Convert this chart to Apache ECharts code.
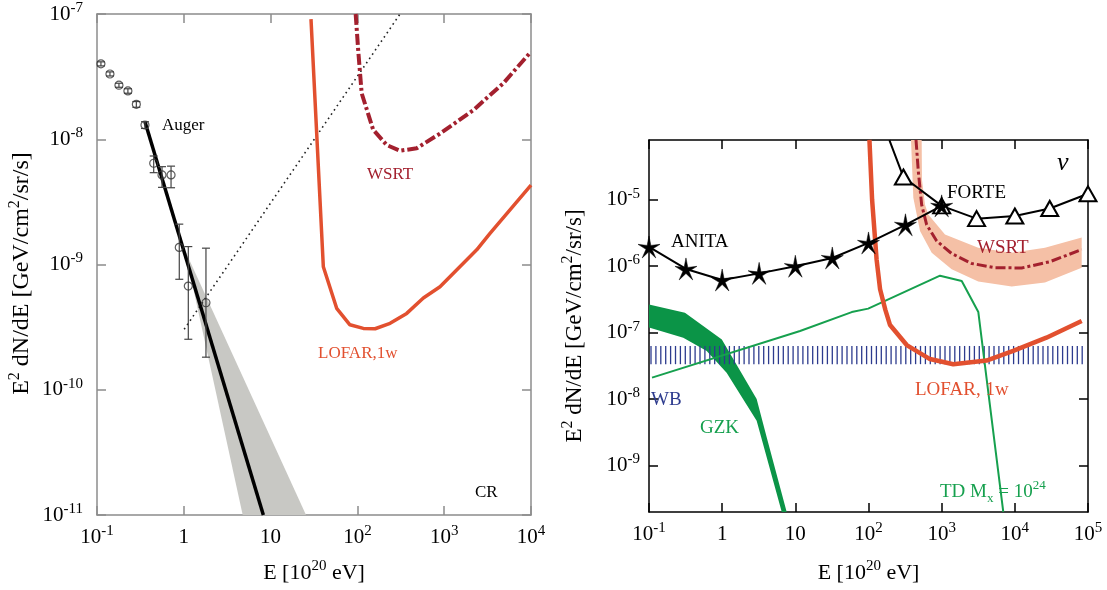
<!DOCTYPE html>
<html>
<head>
<meta charset="utf-8">
<script src="https://cdn.jsdelivr.net/npm/echarts@6/dist/echarts.min.js"></script>
<style>
html, body { margin: 0; padding: 0; background: #fff; }
#chart { width: 1107px; height: 590px; }
</style>
</head>
<body>
<div id="chart"></div>
<script>
var SERIF = '"Liberation Serif", "DejaVu Serif", serif';

// ---------- left panel: cosmic rays (CR) ----------
var crTicksX = [0.1, 1, 10, 100, 1000, 10000];
var crTicksY = [1e-11, 1e-10, 1e-9, 1e-8, 1e-7];

// Auger points, E [1e20 eV], flux and error bar ends
var augerE    = [0.111, 0.141, 0.179, 0.227, 0.284, 0.357, 0.45, 0.561, 0.713, 0.887, 1.127, 1.80];
var augerFlux = [4.0e-8, 3.32e-8, 2.70e-8, 2.43e-8, 1.90e-8, 1.30e-8, 6.43e-9, 5.19e-9, 5.19e-9, 1.37e-9, 6.73e-10, 4.95e-10];
var augerLo   = [3.85e-8, 3.2e-8, 2.6e-8, 2.33e-8, 1.80e-8, 1.22e-8, 5.41e-9, 4.13e-9, 4.1e-9, 7.62e-10, 2.53e-10, 1.82e-10];
var augerHi   = [4.15e-8, 3.45e-8, 2.8e-8, 2.53e-8, 2.0e-8, 1.38e-8, 7.35e-9, 6.04e-9, 6.1e-9, 2.10e-9, 1.39e-9, 1.35e-9];

var augerFit  = [[0.357, 1.38e-8], [8.25, 1e-11]];
var crBand    = [[1.03, 1.3e-9], [4.77, 1e-11], [25.6, 1e-11]];
var crDotted  = [[1.01, 3.04e-10], [310, 1e-7]];

var lofarCR = [[29.2, 9.1e-8], [40.5, 9.6e-10], [57.7, 4.47e-10], [82, 3.3e-10], [117, 3.09e-10],
               [160, 3.07e-10], [238, 3.39e-10], [370, 4.07e-10], [575, 5.4e-10], [895, 6.65e-10],
               [2370, 1.31e-9], [3370, 1.77e-9], [10000, 4.3e-9]];
var wsrtCR  = [[95.5, 1e-7], [102, 5.2e-8], [112, 2.33e-8], [152, 1.19e-8], [217, 9.0e-9],
               [310, 8.1e-9], [482, 8.47e-9], [895, 1.11e-8], [2170, 1.71e-8], [4800, 2.8e-8], [10000, 5.0e-8]];

// ---------- right panel: neutrinos ----------
var nuTicksX = [0.1, 1, 10, 100, 1000, 10000, 100000];
var nuTicksY = [1e-9, 1e-8, 1e-7, 1e-6, 1e-5];

var anitaE    = [0.1, 0.32, 1, 3.2, 10, 32, 100, 320, 1000];
var anitaFlux = [1.95e-6, 9.1e-7, 6.2e-7, 7.8e-7, 1.0e-6, 1.33e-6, 2.24e-6, 4.2e-6, 8.1e-6];

var forteE    = [193, 300, 1000, 3000, 10000, 30000, 100000];
var forteFlux = [7.9e-5, 2.2e-5, 8.1e-6, 5.2e-6, 5.7e-6, 7.4e-6, 1.23e-5];

var lofarNu = [[103, 8e-5], [112, 1e-5], [129, 1.26e-6], [144, 4.5e-7], [170, 2.2e-7], [197, 1.3e-7],
               [333, 6.5e-8], [692, 4.0e-8], [1440, 3.35e-8], [4100, 3.8e-8], [9500, 5.3e-8],
               [27000, 8.4e-8], [82000, 1.5e-7]];

var wsrtNu = [[446, 8e-5], [479, 2.7e-5], [533, 8.4e-6], [624, 4.2e-6], [855, 2.4e-6], [1370, 1.55e-6],
              [2570, 1.1e-6], [5350, 9.5e-7], [12400, 9.4e-7], [30200, 1.17e-6], [82000, 1.78e-6]];
var wsrtBandInner = [[533, 8e-5], [538, 2.0e-5], [592, 8.4e-6], [656, 6.0e-6], [1110, 3.0e-6],
                     [3160, 1.9e-6], [9060, 1.6e-6], [25800, 1.9e-6], [82000, 2.7e-6]];
var wsrtBandOuter = [[381, 8e-5], [410, 1.07e-5], [506, 3.4e-6], [731, 1.6e-6], [1370, 9.0e-7],
                     [3160, 5.9e-7], [9060, 4.96e-7], [25800, 5.7e-7], [82000, 9.5e-7]];

var tdLine = [[0.11, 2.1e-8], [11.6, 1.06e-7], [59, 2.04e-7], [99, 2.3e-7], [950, 7.2e-7],
              [1880, 6.0e-7], [3170, 2.04e-7], [4120, 2.0e-8], [6950, 2e-10]];

var gzkUpper = [[0.1, 2.66e-7], [0.31, 2.0e-7], [0.99, 7.9e-8], [2.96, 1.0e-8], [4.06, 2.66e-9], [7.62, 2e-10]];
var gzkLower = [[0.1, 1.19e-7], [0.294, 8.4e-8], [0.615, 5.3e-8], [1.15, 2.5e-8], [2.96, 4.7e-9], [6.52, 2e-10]];

var wbX = [0.1, 90000];
var wbY = [6.3e-8, 3.35e-8];

// ---------- helpers ----------
var COL_LOFAR = '#e2502f';
var COL_WSRT = '#a3202e';
var COL_GREEN = '#16a04e';
var COL_NAVY = '#2d3b8e';
var GREY = '#8c8c8c';

var rich = {
    b: { fontFamily: SERIF, fontSize: 21, lineHeight: 27, color: '#000' },
    s: { fontFamily: SERIF, fontSize: 15, lineHeight: 15, verticalAlign: 'top', color: '#000' }
};
function nameRich(size) {
    return {
        b: { fontFamily: SERIF, fontSize: size, lineHeight: size + 6, color: '#000' },
        s: { fontFamily: SERIF, fontSize: Math.round(size * 0.68), lineHeight: Math.round(size * 0.68), verticalAlign: 'top', color: '#000' }
    };
}

function powLabel(v) {
    var e = Math.round(Math.log10(v));
    if (e === 0) return '{b|1}';
    if (e === 1) return '{b|10}';
    return '{b|10}{s|' + e + '}';
}

function makeAxis(gridIndex, pos, min, max, ticks, color, labelMargin, name, nameSize, nameGap, namePad) {
    var ax = {
        type: 'log', gridIndex: gridIndex, position: pos, min: min, max: max,
        axisLine: { show: true, lineStyle: { color: color, width: 1.5 } },
        axisTick: { show: true, inside: true, length: 9, customValues: ticks, lineStyle: { color: color, width: 1.5 } },
        minorTick: { show: false },
        splitLine: { show: false },
        axisLabel: {
            show: labelMargin != null, customValues: ticks, formatter: powLabel, rich: rich,
            margin: labelMargin || 8
        }
    };
    if (name) {
        ax.name = name;
        ax.nameLocation = 'middle';
        ax.nameTextStyle = { rich: nameRich(nameSize), padding: namePad || 0 };
        ax.nameGap = nameGap;
    }
    return ax;
}

function polygonSeries(pts, color, xi, yi, z) {
    return {
        type: 'custom', xAxisIndex: xi, yAxisIndex: yi, clip: true, z: z, silent: true,
        data: pts,
        renderItem: function (params, api) {
            if (params.dataIndex !== 0) return;
            return {
                type: 'polygon',
                shape: { points: pts.map(function (p) { return api.coord(p); }) },
                style: { fill: color }
            };
        }
    };
}

var starPath = 'path://M10 0L11.6 7.8L19.51 6.91L12.6 11L15.88 18.09L10 12.8L4.12 18.09L7.4 11L0.49 6.91L8.4 7.8Z';

var xName = '{b|E [10}{s|20}{b| eV]}';
var yName = '{b|E}{s|2}{b| dN/dE [GeV/cm}{s|2}{b|/sr/s]}';

function txt(x, y, text, color, size, extra) {
    var st = { text: text, fill: color, font: (extra || '') + size + 'px ' + SERIF, verticalAlign: 'middle' };
    return { type: 'text', x: x, y: y, z: 100, style: st };
}

var chart = echarts.init(document.getElementById('chart'));
var option = {
    animation: false,
    backgroundColor: '#fff',
    grid: [
        { left: 97, top: 14, width: 434, height: 501, outerBoundsMode: 'none' },
        { left: 649, top: 140, width: 439, height: 372, outerBoundsMode: 'none' }
    ],
    xAxis: [
        makeAxis(0, 'bottom', 0.1, 1e4, crTicksX, GREY, 9, xName, 22, 44),
        makeAxis(0, 'top', 0.1, 1e4, crTicksX, GREY, null),
        makeAxis(1, 'bottom', 0.1, 1e5, nuTicksX, '#000', 9, xName, 22, 47),
        makeAxis(1, 'top', 0.1, 1e5, nuTicksX, '#000', null)
    ],
    yAxis: [
        makeAxis(0, 'left', 1e-11, 1e-7, crTicksY, GREY, 14, yName, 24, 60, [0, 18, 0, 0]),
        makeAxis(0, 'right', 1e-11, 1e-7, crTicksY, GREY, null),
        makeAxis(1, 'left', 1.995e-10, 7.94e-5, nuTicksY, '#000', 9, yName, 23, 60),
        makeAxis(1, 'right', 1.995e-10, 7.94e-5, nuTicksY, '#000', null)
    ],
    series: [
        // left panel
        polygonSeries(crBand, '#c8c8c4', 0, 0, 1),
        {
            type: 'line', xAxisIndex: 0, yAxisIndex: 0, data: crDotted, symbol: 'none', z: 2,
            lineStyle: { color: '#222', width: 1.6, type: [1.6, 3.6] }
        },
        {
            type: 'line', xAxisIndex: 0, yAxisIndex: 0, data: augerFit, symbol: 'none', z: 3,
            lineStyle: { color: '#000', width: 3.5 }
        },
        {
            type: 'line', xAxisIndex: 0, yAxisIndex: 0, data: lofarCR, symbol: 'none', z: 3,
            lineStyle: { color: COL_LOFAR, width: 3.5 }
        },
        {
            type: 'line', xAxisIndex: 0, yAxisIndex: 0, data: wsrtCR, symbol: 'none', z: 3,
            lineStyle: { color: COL_WSRT, width: 4, type: [11, 3, 3, 3] }
        },
        {
            type: 'custom', xAxisIndex: 0, yAxisIndex: 0, z: 4,
            data: augerE.map(function (e, i) { return [e, augerFlux[i], augerLo[i], augerHi[i]]; }),
            encode: { x: 0, y: [1, 2, 3] },
            renderItem: function (params, api) {
                var x = api.value(0);
                var lo = api.coord([x, api.value(2)]);
                var hi = api.coord([x, api.value(3)]);
                var st = { stroke: '#444', lineWidth: 1.2 };
                return {
                    type: 'group', children: [
                        { type: 'line', shape: { x1: lo[0], y1: lo[1], x2: hi[0], y2: hi[1] }, style: st },
                        { type: 'line', shape: { x1: lo[0] - 4, y1: lo[1], x2: lo[0] + 4, y2: lo[1] }, style: st },
                        { type: 'line', shape: { x1: hi[0] - 4, y1: hi[1], x2: hi[0] + 4, y2: hi[1] }, style: st }
                    ]
                };
            }
        },
        {
            type: 'scatter', xAxisIndex: 0, yAxisIndex: 0, z: 5,
            data: augerE.map(function (e, i) { return [e, augerFlux[i]]; }),
            symbol: 'circle', symbolSize: 8,
            itemStyle: { color: 'rgba(255,255,255,0)', borderColor: '#333', borderWidth: 1.2 }
        },

        // right panel
        polygonSeries(gzkUpper.concat(gzkLower.slice().reverse()), '#0b9447', 2, 2, 1),
        {
            type: 'custom', xAxisIndex: 2, yAxisIndex: 2, z: 2,
            data: [[wbX[0], wbY[0]]],
            renderItem: function (params, api) {
                var p0 = api.coord([wbX[0], wbY[0]]);
                var p1 = api.coord([wbX[1], wbY[1]]);
                var lines = [];
                for (var x = p0[0] + 2; x <= p1[0]; x += 4.9) {
                    lines.push({
                        type: 'line',
                        shape: { x1: x, y1: p0[1], x2: x, y2: p1[1] },
                        style: { stroke: COL_NAVY, lineWidth: 1.3 }
                    });
                }
                return { type: 'group', children: lines };
            }
        },
        {
            type: 'line', xAxisIndex: 2, yAxisIndex: 2, data: tdLine, symbol: 'none', z: 3,
            lineStyle: { color: COL_GREEN, width: 2 }
        },
        polygonSeries(wsrtBandInner.concat(wsrtBandOuter.slice().reverse()), '#f5c0a6', 2, 2, 3),
        {
            type: 'line', xAxisIndex: 2, yAxisIndex: 2, data: wsrtNu, symbol: 'none', z: 4,
            lineStyle: { color: COL_WSRT, width: 3, type: [10, 3, 3, 3] }
        },
        {
            type: 'line', xAxisIndex: 2, yAxisIndex: 2, data: lofarNu, symbol: 'none', z: 4,
            lineStyle: { color: COL_LOFAR, width: 4.5 }
        },
        {
            type: 'line', xAxisIndex: 2, yAxisIndex: 2, z: 5,
            data: forteE.map(function (e, i) {
                return i === 0 ? { value: [e, forteFlux[i]], symbol: 'none' } : [e, forteFlux[i]];
            }),
            symbol: 'triangle', symbolSize: [17, 15],
            lineStyle: { color: '#000', width: 2 },
            itemStyle: { color: '#fff', borderColor: '#000', borderWidth: 2 }
        },
        {
            type: 'line', xAxisIndex: 2, yAxisIndex: 2, z: 6,
            data: anitaE.map(function (e, i) { return [e, anitaFlux[i]]; }),
            symbol: starPath, symbolSize: 22,
            lineStyle: { color: '#000', width: 2 },
            itemStyle: { color: '#000', borderColor: '#000', borderWidth: 0.5 }
        }
    ],
    graphic: [
        txt(162, 126, 'Auger', '#000', 17),
        txt(367, 175, 'WSRT', COL_WSRT, 17),
        txt(318, 354, 'LOFAR,1w', COL_LOFAR, 17),
        txt(475, 493, 'CR', '#000', 17),
        txt(671, 242, 'ANITA', '#000', 19),
        txt(947, 193, 'FORTE', '#000', 19),
        txt(977, 248, 'WSRT', COL_WSRT, 19),
        txt(915, 390, 'LOFAR, 1w', COL_LOFAR, 19),
        txt(651, 400, 'WB', COL_NAVY, 19),
        txt(700, 428, 'GZK', COL_GREEN, 19),
        txt(1057, 163, '\u03bd', '#000', 26, 'italic '),
        {
            type: 'text', x: 940, y: 492, z: 100,
            style: {
                text: '{a|TD M}{sub|x}{a| = 10}{sup|24}',
                verticalAlign: 'middle',
                rich: {
                    a: { fontFamily: SERIF, fontSize: 19, lineHeight: 26, fill: COL_GREEN, color: COL_GREEN },
                    sub: { fontFamily: SERIF, fontSize: 13, lineHeight: 13, verticalAlign: 'bottom', fill: COL_GREEN, color: COL_GREEN },
                    sup: { fontFamily: SERIF, fontSize: 13, lineHeight: 13, verticalAlign: 'top', fill: COL_GREEN, color: COL_GREEN }
                }
            }
        }
    ]
};
chart.setOption(option);
</script>
</body>
</html>
